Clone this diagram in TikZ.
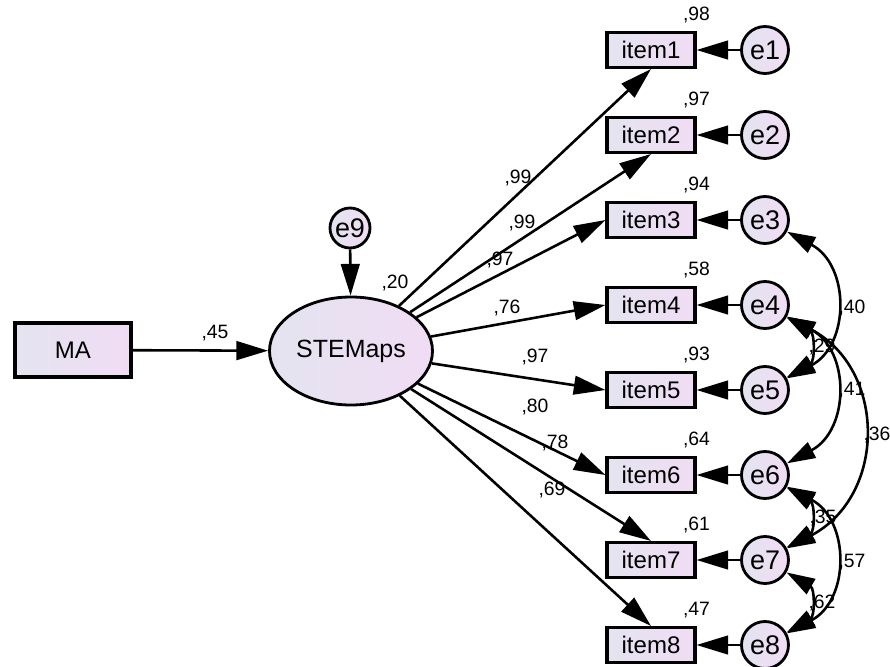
\documentclass[tikz,border=0pt]{standalone}
\usepackage{fontspec}
\setmainfont{Liberation Sans}
\usetikzlibrary{arrows.meta,shapes.geometric}

\definecolor{shadeL}{RGB}{228,228,240}
\definecolor{shadeR}{RGB}{240,220,244}

\begin{document}
\begin{tikzpicture}[x=0.03cm,y=0.03cm,
  obs/.style={draw,line width=2.6pt,rectangle,minimum width=2.64cm,minimum height=1.05cm,
    inner sep=0pt,left color=shadeL,right color=shadeR,font=\fontsize{20.5}{22}\selectfont},
  err/.style={draw,line width=2.4pt,circle,minimum size=1.41cm,inner sep=0pt,
    left color=shadeL,right color=shadeR,font=\fontsize{23}{25}\selectfont},
  lat/.style={draw,line width=2.4pt,ellipse,minimum width=4.89cm,minimum height=3.24cm,
    inner sep=0pt,left color=shadeL,right color=shadeR,font=\fontsize{21.3}{23}\selectfont},
  path/.style={line width=2.2pt,-{Triangle[length=0.95cm,width=0.56cm]}},
  cov/.style={line width=2.2pt,{Triangle[length=0.85cm,width=0.52cm]}-{Triangle[length=0.85cm,width=0.52cm]}},
  lbl/.style={font=\fontsize{16.5}{18}\selectfont,inner sep=0pt}]
  \useasboundingbox (0,0) rectangle (890,-666);

  % exogenous and latent
  \node[obs,minimum width=3.48cm,minimum height=1.62cm] (MA) at (73,-350) {MA};
  \node[lat] (STEM) at (351,-351) {STEMaps};
  \node[err,minimum size=1.2cm] (e9) at (350,-228) {e9};

  % indicators with their errors
  \foreach \i/\y in {1/50,2/135,3/220,4/305,5/390,6/475,7/560,8/645} {
    \node[obs] (item\i) at (651,-\y) {item\i};
    \node[err] (e\i) at (765,-\y) {e\i};
    \draw[path] (e\i) -- (item\i);
  }

  % squared multiple correlations
  \foreach \i/\v in {1/98,2/97,3/94,4/58,5/93,6/64,7/61,8/47}
    \node[lbl] (r\i) at ([yshift=0.47cm]item\i.north east) {,\v};
  \node[lbl] (rS) at (395,-283) {,20};

  % structural path
  \draw[path] (MA) -- (STEM);
  \node[lbl] (bMA) at (215,-333) {,45};
  \draw[path] (e9) -- (STEM);

  % loadings
  \draw[path] (STEM) -- (item1.south);
  \draw[path] (STEM) -- (item2.south);
  \draw[path] (STEM) -- (item3.west);
  \draw[path] (STEM) -- (item4.west);
  \draw[path] (STEM) -- (item5.west);
  \draw[path] (STEM) -- (item6.west);
  \draw[path] (STEM) -- (item7.north);
  \draw[path] (STEM) -- (item8.north);
  \node[lbl] (l1) at (518,-178) {,99};
  \node[lbl] (l2) at (522,-223) {,99};
  \node[lbl] (l3) at (500,-260) {,97};
  \node[lbl] (l4) at (507,-308) {,76};
  \node[lbl] (l5) at (535,-357) {,97};
  \node[lbl] (l6) at (535,-407) {,80};
  \node[lbl] (l7) at (555,-443) {,78};
  \node[lbl] (l8) at (552,-490) {,69};

  % error covariances
  \draw[cov] (e3) to[out=-28,in=28,looseness=1.25] (e5);
  \draw[cov] (e4) to[out=-30,in=30,looseness=1.4] (e5);
  \draw[cov] (e4) to[out=-28,in=28,looseness=1.25] (e6);
  \draw[cov] (e4) to[out=-28,in=28,looseness=1.25] (e7);
  \draw[cov] (e6) to[out=-30,in=30,looseness=1.4] (e7);
  \draw[cov] (e6) to[out=-28,in=28,looseness=1.25] (e8);
  \draw[cov] (e7) to[out=-30,in=30,looseness=1.4] (e8);
  \node[lbl] (c35) at (852,-308) {,40};
  \node[lbl] (c45) at (822,-347) {,29};
  \node[lbl] (c46) at (852,-390) {,41};
  \node[lbl] (c47) at (877,-435) {,36};
  \node[lbl] (c67) at (823,-518) {,35};
  \node[lbl] (c68) at (852,-562) {,57};
  \node[lbl] (c78) at (822,-603) {,62};
\end{tikzpicture}
\end{document}
